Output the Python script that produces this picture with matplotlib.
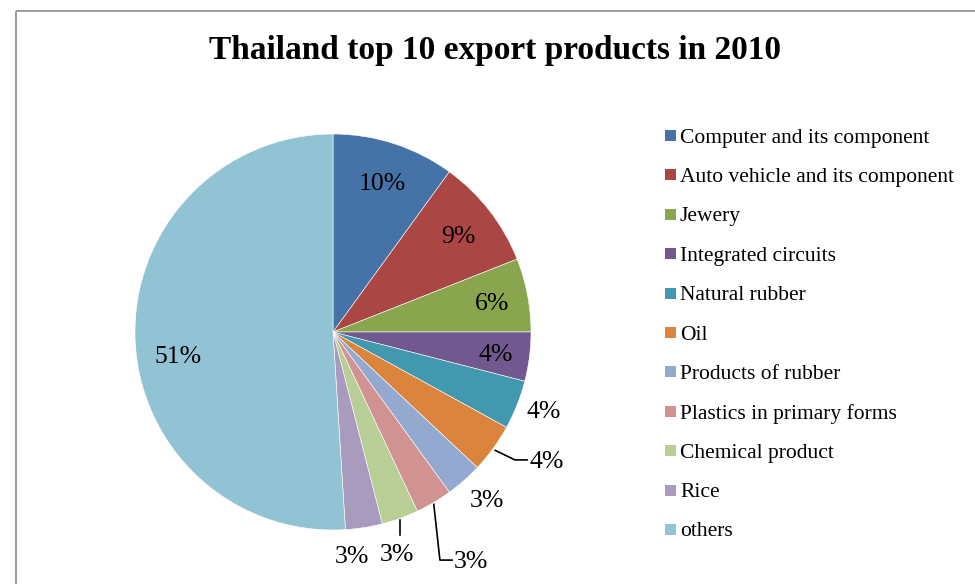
import numpy as np
import matplotlib.pyplot as plt
from matplotlib.patches import Rectangle

# Thailand top 10 export products, share of total exports (%)
products = [
    "Computer and its component",
    "Auto vehicle and its component",
    "Jewery",
    "Integrated circuits",
    "Natural rubber",
    "Oil",
    "Products of rubber",
    "Plastics in primary forms",
    "Chemical product",
    "Rice",
    "others",
]
shares = [10, 9, 6, 4, 4, 4, 3, 3, 3, 3, 51]
colors = ["#4572A7", "#AA4643", "#89A54E", "#71588F", "#4198AF", "#DB843D",
          "#93A9CF", "#D19392", "#B9CD96", "#A99BBD", "#92C3D4"]

W, H = 975, 584
SERIF = ["Liberation Serif", "DejaVu Serif"]


def fx(px):
    return px / W


def fy(py):
    return 1 - py / H


fig = plt.figure(figsize=(W / 100, H / 100), dpi=100)

# chart frame
fig.add_artist(Rectangle((fx(16), fy(11)), 1.0, -1.0, transform=fig.transFigure,
                         fill=False, edgecolor="#8c8c8c", linewidth=1.2))

fig.text(fx(495), fy(51), "Thailand top 10 export products in 2010",
         ha="center", va="center", fontsize=24, fontweight="bold", family=SERIF)

# pie: centre (333, 332) px, radius 198 px
cx, cy, r = 333, 332, 198
ax = fig.add_axes([fx(cx - r), fy(cy + r), 2 * r / W, 2 * r / H])
wedges, _ = ax.pie(shares, colors=colors, startangle=90, counterclock=False,
                   wedgeprops=dict(edgecolor="white", linewidth=0.4))
ax.set_xlim(-1, 1)
ax.set_ylim(-1, 1)
ax.set_aspect("auto")
ax.axis("off")

# label placement: radius factor along mid-angle, or explicit (x, y) for crowded slices
inner = {0: 0.80, 1: 0.80, 2: 0.82, 3: 0.83}
outer = {4: (1.066, -0.405), 6: (0.778, -0.855), 8: (0.323, -1.125),
         9: (0.096, -1.135), 10: (-0.783, -0.126)}
leader_left = {5: (0.99, -0.646), 7: (0.611, -1.152)}
dy = -0.012

for i, (w, v) in enumerate(zip(wedges, shares)):
    mid = np.deg2rad((w.theta1 + w.theta2) / 2)
    txt = f"{v}%"
    kw = dict(fontsize=18.5, family=SERIF, color="black", clip_on=False)
    if i in inner:
        ax.text(inner[i] * np.cos(mid), inner[i] * np.sin(mid) + dy, txt,
                ha="center", va="center", **kw)
    elif i in outer:
        x, y = outer[i]
        ax.text(x, y, txt, ha="center", va="center", **kw)
        if i == 8:
            sx, sy = np.cos(mid), np.sin(mid)
            ax.plot([sx, sx], [sy - 0.01, y + 0.1], color="black", lw=1.2,
                    clip_on=False)
    else:
        x, y = leader_left[i]
        ax.text(x, y + dy, txt, ha="left", va="center", **kw)
        sx, sy = np.cos(mid), np.sin(mid)
        if i == 5:
            xs = [sx + 0.01, 0.919, x - 0.01]
        else:
            xs = [sx, 0.540, x - 0.01]
        ax.plot(xs, [sy - 0.01, y, y], color="black", lw=1.2, clip_on=False)

# legend
for i, (name, c) in enumerate(zip(products, colors)):
    yc = 135.5 + i * 39.4
    fig.add_artist(Rectangle((fx(665), fy(yc + 5.5)), 11 / W, 11 / H,
                             transform=fig.transFigure, facecolor=c, edgecolor="none"))
    fig.text(fx(680), fy(yc), name, ha="left", va="center_baseline",
             fontsize=15.5, family=SERIF)

fig.savefig("out.png", dpi=100)
